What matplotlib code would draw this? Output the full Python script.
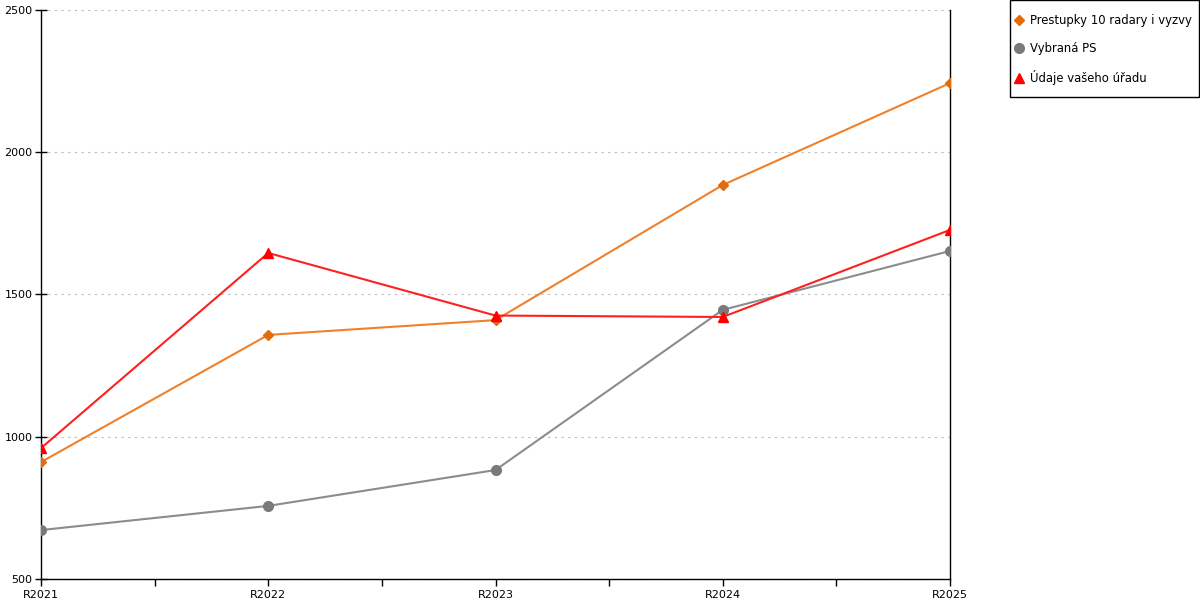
import matplotlib
matplotlib.use("Agg")
import matplotlib.pyplot as plt
from matplotlib.patches import Rectangle
from matplotlib.ticker import MultipleLocator

years = ["R2021", "R2022", "R2023", "R2024", "R2025"]
prestupky = [911, 1358, 1410, 1885, 2243]
vybrana_ps = [672, 757, 883, 1446, 1653]
udaje_uradu = [960, 1646, 1426, 1421, 1727]

plt.rcParams["font.family"] = ["DejaVu Sans"]

W, H = 1200, 600
fig = plt.figure(figsize=(12, 6), dpi=100)
ax = fig.add_axes([41 / W, 1 - 579 / H, (950 - 41) / W, (579 - 10) / H])

x = list(range(len(years)))
ax.plot(x, prestupky, color="#f0802a", lw=1.5, marker="D", ms=5,
        mfc="#e06c0c", mec="#e06c0c", label="Prestupky 10 radary i vyzvy", zorder=3)
ax.plot(x, vybrana_ps, color="#8c8c8c", lw=1.5, marker="o", ms=7,
        mfc="#7a7a7a", mec="#7a7a7a", label="Vybraná PS", zorder=3)
ax.plot(x, udaje_uradu, color="#ff2020", lw=1.5, marker="^", ms=7.5,
        mfc="#ff0000", mec="#ff0000", label="Údaje vašeho úřadu", zorder=4)

ax.set_xlim(0, len(years) - 1)
ax.set_ylim(500, 2500)
ax.set_xticks(x)
ax.set_xticklabels(years, fontsize=8)
ax.xaxis.set_minor_locator(MultipleLocator(0.5))
ax.set_yticks([500, 1000, 1500, 2000, 2500])
ax.tick_params(axis="y", labelsize=8, direction="inout", length=8, width=1, pad=2)
ax.tick_params(axis="x", which="both", direction="out", length=5, width=1, pad=3)

ax.grid(axis="y", linestyle=(0, (2, 4)), color="#bbbbbb", lw=0.8)
ax.set_axisbelow(True)
for side in ("left", "bottom", "right"):
    ax.spines[side].set_color("black")
    ax.spines[side].set_linewidth(1)
ax.spines["top"].set_visible(False)

# legenda bez ramecku + ramecek zvlast (presne umisteni)
leg = fig.legend(loc="upper left", bbox_to_anchor=(1014.5 / W, 1 - 14 / H), fontsize=8.4,
                 frameon=False, handlelength=0.8, handletextpad=0.55,
                 labelspacing=1.28, borderpad=0, borderaxespad=0)
for h in leg.legend_handles:
    h.set_linestyle("")
fig.patches.append(Rectangle((1010 / W, 1 - 97 / H), 189 / W, 96.5 / H,
                             transform=fig.transFigure, fill=False,
                             edgecolor="black", lw=1))

fig.savefig("out.png", dpi=100)
